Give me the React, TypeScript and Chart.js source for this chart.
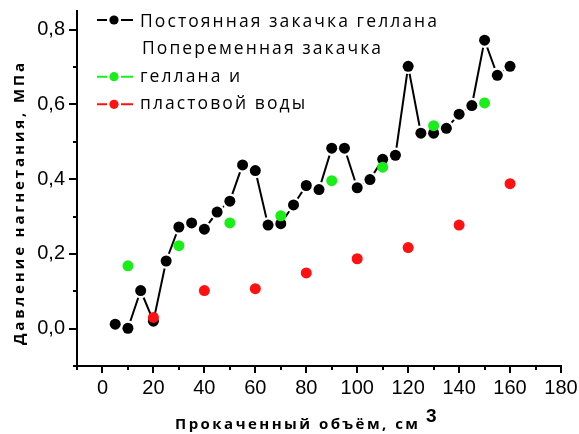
import React, { useEffect, useRef } from "react";
import { Chart, registerables } from "chart.js";

Chart.register(...registerables);

// Injection pressure (MPa) versus pumped volume (cm³)
const steadyVolume = [5, 10, 15, 20, 25, 30, 35, 40, 45, 50, 55, 60, 65, 70, 75, 80, 85, 90, 95, 100, 105, 110, 115, 120, 125, 130, 135, 140, 145, 150, 155, 160];
const steadyPressure = [0.012, 0.001, 0.102, 0.02, 0.181, 0.272, 0.283, 0.266, 0.312, 0.341, 0.438, 0.423, 0.277, 0.281, 0.331, 0.383, 0.372, 0.483, 0.483, 0.377, 0.399, 0.453, 0.464, 0.702, 0.523, 0.523, 0.536, 0.574, 0.597, 0.772, 0.678, 0.702];

const gellanVolume = [10, 30, 50, 70, 90, 110, 130, 150];
const gellanPressure = [0.168, 0.222, 0.283, 0.302, 0.396, 0.432, 0.543, 0.604];

const waterVolume = [20, 40, 60, 80, 100, 120, 140, 160];
const waterPressure = [0.03, 0.102, 0.107, 0.149, 0.187, 0.217, 0.277, 0.388];

const volumeTicks = [0, 20, 40, 60, 80, 100, 120, 140, 160, 180];
const pressureTicks = [0, 0.2, 0.4, 0.6, 0.8];
const volumeRange = [-10, 180];
const pressureRange = [-0.1, 0.85];
const volumeMinorStep = 10;
const pressureMinorStep = 0.1;

const xTitle = "Прокаченный объём, см";
const xTitleSup = "3";
const yTitle = "Давление нагнетания, МПа";

const BLACK = "#000000";
const GREEN = "#19ee19";
const RED = "#ff1111";

const legendRows = [
  { text: "Постоянная закачка геллана", color: BLACK },
  { text: "Попеременная закачка", color: "" },
  { text: "геллана и", color: GREEN },
  { text: "пластовой воды", color: RED },
];

const toPoints = (xs: number[], ys: number[]) => xs.map((x, i) => ({ x, y: ys[i] }));

function gapFor(ctx: CanvasRenderingContext2D, text: string, width: number) {
  const chars = Array.from(text);
  const total = chars.reduce((s, c) => s + ctx.measureText(c).width, 0);
  return chars.length > 1 ? (width - total) / (chars.length - 1) : 0;
}

function drawGapped(ctx: CanvasRenderingContext2D, text: string, x: number, y: number, gap: number) {
  let cx = x;
  for (const c of Array.from(text)) {
    ctx.fillText(c, cx, y);
    cx += ctx.measureText(c).width + gap;
  }
  return cx - gap;
}

const decorPlugin = {
  id: "decor",
  afterDraw(chart: any) {
    const { ctx, chartArea } = chart;
    const xs = chart.scales.x;
    const ys = chart.scales.y;
    ctx.save();
    ctx.strokeStyle = BLACK;
    ctx.lineWidth = 2;
    ctx.lineCap = "butt";

    // outward tick marks, major and minor
    const nx = Math.round((volumeRange[1] - volumeRange[0]) / volumeMinorStep);
    for (let i = 0; i <= nx; i++) {
      const v = volumeRange[0] + i * volumeMinorStep;
      const major = volumeTicks.includes(v);
      const px = Math.round(xs.getPixelForValue(v));
      ctx.beginPath();
      ctx.moveTo(px, chartArea.bottom);
      ctx.lineTo(px, chartArea.bottom + (major ? 7 : 4));
      ctx.stroke();
    }
    const ny = Math.floor((pressureRange[1] - pressureRange[0]) / pressureMinorStep + 1e-9);
    for (let i = 0; i <= ny; i++) {
      const v = pressureRange[0] + i * pressureMinorStep;
      const major = pressureTicks.some((t) => Math.abs(t - v) < 1e-9);
      const py = Math.round(ys.getPixelForValue(v));
      ctx.beginPath();
      ctx.moveTo(chartArea.left, py);
      ctx.lineTo(chartArea.left - (major ? 8 : 4), py);
      ctx.stroke();
    }

    // axis titles
    ctx.fillStyle = BLACK;
    ctx.textBaseline = "alphabetic";
    ctx.textAlign = "left";
    ctx.font = "bold 15px 'Open Sans'";
    const xg = gapFor(ctx, xTitle, 243);
    const xEnd = drawGapped(ctx, xTitle, 175, 428.5, xg);
    ctx.font = "bold 19px 'Liberation Sans'";
    ctx.fillText(xTitleSup, Math.max(xEnd + 6, 426), 421.5);

    ctx.font = "bold 15px 'Open Sans'";
    ctx.save();
    ctx.translate(24, 204);
    ctx.rotate(-Math.PI / 2);
    const yg = gapFor(ctx, yTitle, 282);
    drawGapped(ctx, yTitle, -141, 0, yg);
    ctx.restore();

    // legend
    ctx.font = "17.5px 'Open Sans'";
    const lg = gapFor(ctx, legendRows[0].text, 297);
    const rowBase = [26.7, 54.2, 81.7, 109.2];
    const rowMid = [20, 48, 76.7, 104.3];
    legendRows.forEach((row, i) => {
      ctx.fillStyle = BLACK;
      drawGapped(ctx, row.text, i === 1 ? 142 : 140, rowBase[i], lg);
      if (row.color) {
        const cy = rowMid[i];
        ctx.strokeStyle = row.color;
        ctx.lineWidth = 2;
        ctx.beginPath();
        ctx.moveTo(97, cy);
        ctx.lineTo(107, cy);
        ctx.moveTo(121, cy);
        ctx.lineTo(133, cy);
        ctx.stroke();
        ctx.fillStyle = row.color;
        ctx.beginPath();
        ctx.arc(114, cy, 4.6, 0, Math.PI * 2);
        ctx.fill();
      }
    });
    ctx.restore();
  },
};

const clearScalePadding = (scale: any) => {
  scale.paddingTop = 0;
  scale.paddingBottom = 0;
  scale.paddingLeft = 0;
  scale.paddingRight = 0;
};

export default function App() {
  const canvasRef = useRef<HTMLCanvasElement | null>(null);

  useEffect(() => {
    const canvas = canvasRef.current;
    if (!canvas) return;
    const tickFont = { family: "'Liberation Sans', Arial, sans-serif", size: 20 };
    const chart = new Chart(canvas, {
      type: "scatter",
      data: {
        datasets: [
          {
            // connecting line, broken around each marker by white discs
            label: "line",
            data: toPoints(steadyVolume, steadyPressure),
            showLine: true,
            borderColor: BLACK,
            borderWidth: 2,
            tension: 0,
            pointRadius: 7.8,
            pointBackgroundColor: "#ffffff",
            pointBorderWidth: 0,
            order: 4,
          },
          {
            label: "Постоянная закачка геллана",
            data: toPoints(steadyVolume, steadyPressure),
            showLine: false,
            pointRadius: 5.5,
            pointBackgroundColor: BLACK,
            pointBorderWidth: 0,
            order: 3,
          },
          {
            label: "Попеременная закачка геллана",
            data: toPoints(gellanVolume, gellanPressure),
            showLine: false,
            pointRadius: 5.5,
            pointBackgroundColor: GREEN,
            pointBorderWidth: 0,
            order: 2,
          },
          {
            label: "Попеременная закачка пластовой воды",
            data: toPoints(waterVolume, waterPressure),
            showLine: false,
            pointRadius: 5.5,
            pointBackgroundColor: RED,
            pointBorderWidth: 0,
            order: 1,
          },
        ],
      },
      options: {
        responsive: false,
        devicePixelRatio: 1,
        animation: false,
        events: [],
        layout: { padding: { top: 11, right: 18, left: 0, bottom: 0 } },
        plugins: { legend: { display: false }, tooltip: { enabled: false } },
        scales: {
          x: {
            type: "linear",
            min: volumeRange[0],
            max: volumeRange[1],
            grid: { display: false, drawTicks: false },
            border: { display: true, color: BLACK, width: 2 },
            afterBuildTicks: (scale: any) => {
              scale.ticks = volumeTicks.map((value) => ({ value }));
            },
            afterFit: (scale: any) => {
              scale.height = 68;
              clearScalePadding(scale);
            },
            ticks: {
              autoSkip: false,
              maxRotation: 0,
              padding: 10,
              color: BLACK,
              font: tickFont,
              callback: (v: any) => String(v),
            },
          },
          y: {
            type: "linear",
            min: pressureRange[0],
            max: pressureRange[1],
            grid: { display: false, drawTicks: false },
            border: { display: true, color: BLACK, width: 2 },
            afterBuildTicks: (scale: any) => {
              scale.ticks = pressureTicks.map((value) => ({ value }));
            },
            afterFit: (scale: any) => {
              scale.width = 77;
              clearScalePadding(scale);
            },
            ticks: {
              autoSkip: false,
              padding: 12,
              color: BLACK,
              font: tickFont,
              callback: (v: any) => Number(v).toFixed(1).replace(".", ","),
            },
          },
        },
      },
      plugins: [decorPlugin],
    } as any);
    return () => chart.destroy();
  }, []);

  return (
    <div style={{ position: "absolute", left: 0, top: 0, width: 579, height: 434, background: "#ffffff" }}>
      <canvas ref={canvasRef} width={579} height={434} style={{ display: "block" }} />
    </div>
  );
}
